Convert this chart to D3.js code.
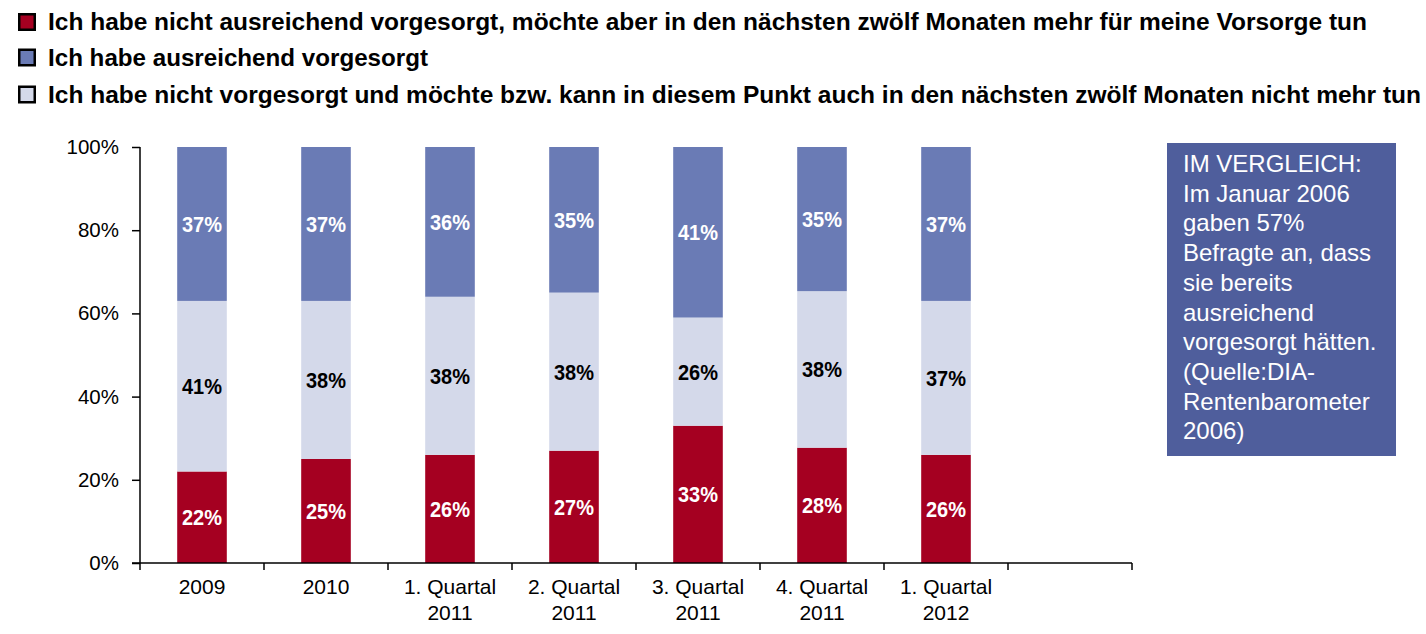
<!DOCTYPE html>
<html>
<head>
<meta charset="utf-8">
<script src="https://cdn.jsdelivr.net/npm/d3@7"></script>
<style>
  body { margin: 0; background: #fff; }
  text { font-family: "Liberation Sans", Arial, sans-serif; }
</style>
</head>
<body>
<div id="container"></div>
<script>
//Chart data
var categories = ["2009", "2010", "1. Quartal|2011", "2. Quartal|2011",
    "3. Quartal|2011", "4. Quartal|2011", "1. Quartal|2012"];
var notEnoughButWill = [22, 25, 26, 27, 33, 28, 26];
var notEnoughNoMore = [41, 38, 38, 38, 26, 38, 37];
var enough = [37, 37, 36, 35, 41, 35, 37];

var seriesNames = [
    "Ich habe nicht ausreichend vorgesorgt, möchte aber in den nächsten zwölf Monaten mehr für meine Vorsorge tun",
    "Ich habe ausreichend vorgesorgt",
    "Ich habe nicht vorgesorgt und möchte bzw. kann in diesem Punkt auch in den nächsten zwölf Monaten nicht mehr tun"
];
var yTicks = [0, 0.2, 0.4, 0.6, 0.8, 1];

var noteLines = ["IM VERGLEICH:", "Im Januar 2006", "gaben 57%", "Befragte an, dass",
    "sie bereits", "ausreichend", "vorgesorgt hätten.", "(Quelle:DIA-",
    "Rentenbarometer", "2006)"];

//Colours
var red = "#a50021", blue = "#6a7bb5", light = "#d4d9ea";

var width = 1426, height = 634;
var plot = { left: 140, right: 1132, top: 147, bottom: 563 };

var svg = d3.select("#container").append("svg")
    .attr("width", width)
    .attr("height", height);

//Build rows for the stack (bottom to top: red, light, blue)
var rows = categories.map(function (c, i) {
    return { cat: c, red: notEnoughButWill[i], light: notEnoughNoMore[i], blue: enough[i] };
});
var keys = ["red", "light", "blue"];
var colors = { red: red, light: light, blue: blue };
var labelColors = { red: "#fff", light: "#000", blue: "#fff" };

var stack = d3.stack().keys(keys).offset(d3.stackOffsetExpand);
var stacked = stack(rows);

//An empty eighth slot at the right end
var slots = categories.concat([""]);
var x = d3.scaleBand().domain(slots).range([plot.left, plot.right]).padding(0);
var barW = x.bandwidth() * 0.4;
var y = d3.scaleLinear().domain([0, 1]).range([plot.bottom, plot.top]);

//Bars
var layer = svg.append("g").selectAll("g")
    .data(stacked)
    .enter().append("g")
    .attr("fill", function (d) { return colors[d.key]; });

layer.selectAll("rect")
    .data(function (d) { return d; })
    .enter().append("rect")
    .attr("x", function (d) { return x(d.data.cat) + (x.bandwidth() - barW) / 2; })
    .attr("width", barW)
    .attr("y", function (d) { return y(d[1]); })
    .attr("height", function (d) { return y(d[0]) - y(d[1]); });

//Value labels
layer.each(function (s) {
    d3.select(this).selectAll("text")
        .data(s)
        .enter().append("text")
        .attr("x", function (d) { return x(d.data.cat) + x.bandwidth() / 2; })
        .attr("y", function (d) { return (y(d[0]) + y(d[1])) / 2 + 8; })
        .attr("text-anchor", "middle")
        .attr("font-size", "22px")
        .attr("font-weight", "bold")
        .attr("textLength", 40)
        .attr("lengthAdjust", "spacingAndGlyphs")
        .attr("fill", labelColors[s.key])
        .text(function (d) { return d.data[s.key] + "%"; });
});

//Y axis
var yAxis = d3.axisLeft(y)
    .tickValues(yTicks)
    .tickFormat(d3.format(".0%"))
    .tickSize(8)
    .tickPadding(13);
var gy = svg.append("g")
    .attr("transform", "translate(" + plot.left + ",0)")
    .call(yAxis);
gy.select(".domain").attr("stroke", "#000").attr("stroke-width", 1.5)
    .attr("d", "M0," + plot.top + "V" + plot.bottom);
gy.selectAll(".tick line").attr("stroke", "#000").attr("stroke-width", 1.5);
gy.selectAll(".tick text")
    .attr("font-family", "'Liberation Sans', Arial, sans-serif")
    .attr("font-size", "20.5px")
    .attr("fill", "#000");

//X axis: line with ticks at slot boundaries
var gx = svg.append("g");
gx.append("line")
    .attr("x1", plot.left - 8).attr("x2", plot.right)
    .attr("y1", plot.bottom).attr("y2", plot.bottom)
    .attr("stroke", "#000").attr("stroke-width", 1.5);
var bounds = slots.map(function (s) { return x(s); }).concat([plot.right]);
gx.selectAll(".xtick")
    .data(bounds)
    .enter().append("line")
    .attr("class", "xtick")
    .attr("x1", function (d) { return d; }).attr("x2", function (d) { return d; })
    .attr("y1", plot.bottom).attr("y2", plot.bottom + 7)
    .attr("stroke", "#000").attr("stroke-width", 1.5);

var xl = gx.selectAll(".xlabel")
    .data(categories)
    .enter().append("text")
    .attr("class", "xlabel")
    .attr("text-anchor", "middle")
    .attr("font-size", "21px")
    .attr("fill", "#000")
    .attr("transform", function (d) {
        return "translate(" + (x(d) + x.bandwidth() / 2) + "," + (plot.bottom + 31) + ")";
    });
xl.selectAll("tspan")
    .data(function (d) { return d.split("|"); })
    .enter().append("tspan")
    .attr("x", 0)
    .attr("dy", function (d, i) { return i === 0 ? 0 : 26; })
    .text(function (d) { return d; });

//Legend
var legendColors = [red, blue, light];
var legendY = [22, 57.5, 94.5];
var legendW = [1319, 380, 1373];
var lg = svg.append("g").selectAll("g")
    .data(seriesNames)
    .enter().append("g")
    .attr("transform", function (d, i) { return "translate(0," + legendY[i] + ")"; });
lg.append("rect")
    .attr("x", 19.25).attr("y", -7.75)
    .attr("width", 15.5).attr("height", 15.5)
    .attr("fill", function (d, i) { return legendColors[i]; })
    .attr("stroke", "#000").attr("stroke-width", 2.5);
lg.append("text")
    .attr("x", 48).attr("y", 8.3)
    .attr("font-size", "23px")
    .attr("font-weight", "bold")
    .attr("fill", "#000")
    .attr("textLength", function (d, i) { return legendW[i]; })
    .attr("lengthAdjust", "spacingAndGlyphs")
    .text(function (d) { return d; });

//Comparison note box
var note = svg.append("g");
note.append("rect")
    .attr("x", 1167).attr("y", 143)
    .attr("width", 229).attr("height", 313)
    .attr("fill", "#4f5e9c");
note.selectAll("text")
    .data(noteLines)
    .enter().append("text")
    .attr("x", 1183)
    .attr("y", function (d, i) { return 172 + i * 29.7; })
    .attr("font-size", "24px")
    .attr("fill", "#fff")
    .text(function (d) { return d; });
</script>
</body>
</html>
